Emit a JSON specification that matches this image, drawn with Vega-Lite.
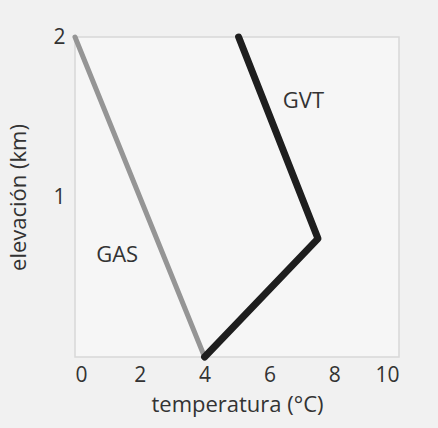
{
  "$schema": "https://vega.github.io/schema/vega-lite/v6.json",
  "width": 324,
  "height": 320,
  "autosize": {"type": "none"},
  "padding": {"left": 75, "top": 37, "right": 39, "bottom": 71},
  "background": "#f1f1f1",
  "config": {
    "view": {"stroke": "#d8d8d8", "strokeWidth": 1.5, "fill": "#f6f6f6"},
    "font": "Open Sans",
    "axis": {"grid": false, "domain": false, "ticks": false, "labelFontSize": 21, "labelColor": "#333", "titleFontSize": 22, "titleFontWeight": "normal", "titleColor": "#333", "labelFont": "Open Sans", "titleFont": "Open Sans"}
  },
  "layer": [
    {
      "data": {"values": [
        {"serie": "GAS", "temperatura": 0, "elevacion": 2, "orden": 1},
        {"serie": "GAS", "temperatura": 4, "elevacion": 0, "orden": 2},
        {"serie": "GVT", "temperatura": 4, "elevacion": 0, "orden": 1},
        {"serie": "GVT", "temperatura": 7.5, "elevacion": 0.74, "orden": 2},
        {"serie": "GVT", "temperatura": 5.05, "elevacion": 2, "orden": 3}
      ]},
      "mark": {"type": "line", "strokeCap": "round", "strokeJoin": "round"},
      "encoding": {
        "x": {"field": "temperatura", "type": "quantitative", "scale": {"domain": [0, 10]}, "axis": {"values": [0, 2, 4, 6, 8, 10], "format": "d", "title": "temperatura (°C)", "labelPadding": 7, "titlePadding": 9}},
        "y": {"field": "elevacion", "type": "quantitative", "scale": {"domain": [0, 2]}, "axis": {"values": [1, 2], "format": "d", "title": "elevación (km)", "labelPadding": 10, "titlePadding": 22}},
        "color": {"field": "serie", "type": "nominal", "scale": {"domain": ["GAS", "GVT"], "range": ["#959595", "#1e1e1e"]}, "legend": null},
        "strokeWidth": {"field": "serie", "type": "nominal", "scale": {"domain": ["GAS", "GVT"], "range": [5, 7]}, "legend": null},
        "order": {"field": "orden", "type": "quantitative"}
      }
    },
    {
      "data": {"values": [
        {"etiqueta": "GAS", "temperatura": 1.3, "elevacion": 0.64},
        {"etiqueta": "GVT", "temperatura": 7.05, "elevacion": 1.6}
      ]},
      "mark": {"type": "text", "fontSize": 22, "color": "#333", "font": "Open Sans"},
      "encoding": {
        "x": {"field": "temperatura", "type": "quantitative"},
        "y": {"field": "elevacion", "type": "quantitative"},
        "text": {"field": "etiqueta"}
      }
    }
  ]
}
